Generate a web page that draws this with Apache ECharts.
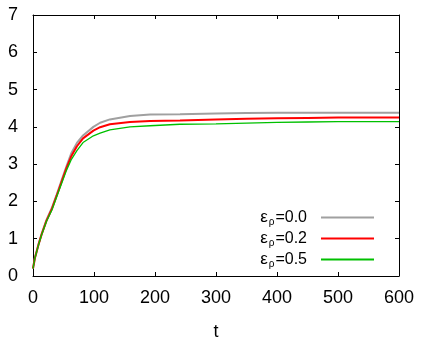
<!DOCTYPE html>
<html>
<head>
<meta charset="utf-8">
<script src="https://cdn.jsdelivr.net/npm/echarts@6/dist/echarts.min.js"></script>
<style>
  html, body { margin: 0; padding: 0; background: #fff; }
  #chart { width: 426px; height: 346px; }
</style>
</head>
<body>
<div id="chart"></div>
<script>
// time samples
const tValues = [0, 3, 9, 14, 22, 31, 39, 47, 55, 63, 72, 82, 99, 110, 126, 159, 192, 241, 300, 350, 400, 450, 500, 600];

// eps_rho = 0.0 (grey)
const eps00 = [0.2, 0.48, 0.85, 1.12, 1.50, 1.83, 2.19, 2.57, 2.95, 3.30, 3.57, 3.77, 4.0, 4.11, 4.20, 4.29, 4.33, 4.34, 4.36, 4.37, 4.38, 4.38, 4.38, 4.38];
// eps_rho = 0.2 (red)
const eps02 = [0.2, 0.47, 0.84, 1.11, 1.48, 1.80, 2.16, 2.53, 2.90, 3.22, 3.48, 3.69, 3.90, 3.99, 4.07, 4.13, 4.16, 4.17, 4.20, 4.22, 4.23, 4.24, 4.25, 4.25];
// eps_rho = 0.5 (green)
const eps05 = [0.2, 0.47, 0.83, 1.10, 1.46, 1.77, 2.13, 2.49, 2.84, 3.13, 3.36, 3.58, 3.76, 3.83, 3.92, 4.0, 4.03, 4.07, 4.08, 4.10, 4.12, 4.13, 4.14, 4.14];

const legendValues = ["0.0", "0.2", "0.5"];
const xTicks = { min: 0, max: 600, interval: 100 };
const yTicks = { min: 0, max: 7, interval: 1 };

const FONT = "Liberation Sans";

function pairs(ys) {
  return tValues.map((t, i) => [t, ys[i]]);
}

const chart = echarts.init(document.getElementById("chart"), null, { renderer: "canvas" });

const axisCommon = {
  type: "value",
  axisLine: { show: true, onZero: false, lineStyle: { color: "#000", width: 1 } },
  axisTick: { show: true, inside: true, length: 4, lineStyle: { color: "#000" } },
  splitLine: { show: false },
};

const option = {
  animation: false,
  backgroundColor: "#fff",
  textStyle: { fontFamily: FONT },
  grid: { left: 33, right: 27, top: 15, bottom: 70 },
  legend: {
    orient: "vertical",
    right: 47,
    top: 204,
    align: "right",
    icon: "rect",
    itemWidth: 53,
    itemHeight: 2,
    itemGap: 3,
    data: legendValues,
    formatter: (name) => `{e|ε}{s|ρ}{v|=${name}}`,
    textStyle: {
      color: "#000",
      fontFamily: FONT,
      rich: {
        e: { fontSize: 17, fontFamily: FONT, color: "#000" },
        s: { fontSize: 10, fontFamily: FONT, color: "#000", padding: [9, 1, 0, 1] },
        v: { fontSize: 16, fontFamily: FONT, color: "#000", padding: [0, 9, 0, 0] },
      },
    },
  },
  xAxis: [
    {
      ...axisCommon,
      ...xTicks,
      position: "bottom",
      name: "t",
      nameLocation: "middle",
      nameGap: 47,
      nameTextStyle: { fontSize: 18, fontFamily: FONT, color: "#000" },
      axisLabel: { fontSize: 18, fontFamily: FONT, color: "#000", margin: 13 },
    },
    {
      ...axisCommon,
      ...xTicks,
      position: "top",
      axisLabel: { show: false },
    },
  ],
  yAxis: [
    {
      ...axisCommon,
      ...yTicks,
      position: "left",
      axisLabel: { fontSize: 18, fontFamily: FONT, color: "#000", margin: 15 },
    },
    {
      ...axisCommon,
      ...yTicks,
      position: "right",
      axisLabel: { show: false },
    },
  ],
  series: [
    {
      name: "0.0",
      type: "line",
      data: pairs(eps00),
      showSymbol: false,
      symbol: "none",
      color: "#a0a0a0",
      lineStyle: { color: "#a0a0a0", width: 2 },
    },
    {
      name: "0.2",
      type: "line",
      data: pairs(eps02),
      showSymbol: false,
      symbol: "none",
      color: "#ff0000",
      lineStyle: { color: "#ff0000", width: 2 },
    },
    {
      name: "0.5",
      type: "line",
      data: pairs(eps05),
      showSymbol: false,
      symbol: "none",
      color: "#00c000",
      lineStyle: { color: "#00c000", width: 1.3 },
    },
  ],
};

chart.setOption(option);
</script>
</body>
</html>
